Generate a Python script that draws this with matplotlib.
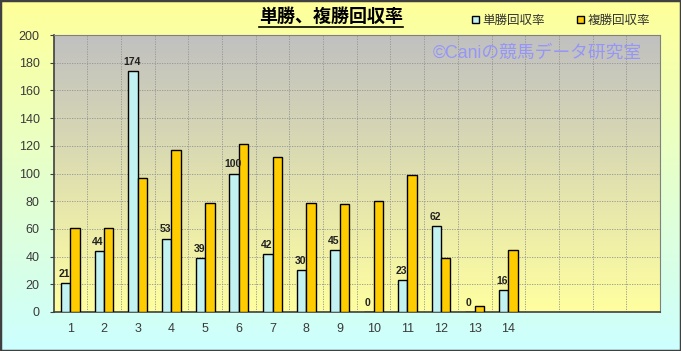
import numpy as np
import matplotlib
matplotlib.use('Agg')
import matplotlib.pyplot as plt
from matplotlib.colors import LinearSegmentedColormap
from matplotlib.patches import Rectangle
from matplotlib.lines import Line2D

plt.rcParams['font.family'] = ['Liberation Sans', 'Noto Sans CJK JP', 'DejaVu Sans']

# データ
races = list(range(1, 15))
win_returns = [21, 44, 174, 53, 39, 100, 42, 30, 45, 0, 23, 62, 0, 16]
place_returns = [61, 61, 97, 117, 79, 121, 112, 79, 78, 80, 99, 39, 4, 45]
n_slots = 18
title = '単勝、複勝回収率'
labels = ['単勝回収率', '複勝回収率']
watermark = '©Caniの競馬データ研究室'

fig = plt.figure(figsize=(6.81, 3.51), dpi=100)

# 背景グラデーション
bg = fig.add_axes([0, 0, 1, 1], zorder=-10)
cm_bg = LinearSegmentedColormap.from_list('bg', ['#ccffff', '#ffff99'])
bg.imshow(np.linspace(0, 1, 256).reshape(-1, 1)[::-1], aspect='auto',
          cmap=cm_bg, extent=[0, 1, 0, 1])
bg.axis('off')

ax = fig.add_axes([53.5 / 681, 39 / 351, 606.5 / 681, 277 / 351])
cm_plot = LinearSegmentedColormap.from_list('pl', ['#ffffa0', '#c0c0c0'])
ax.imshow(np.linspace(0, 1, 256).reshape(-1, 1)[::-1], aspect='auto',
          cmap=cm_plot, extent=[0.5, n_slots + 0.5, 0, 200], zorder=0)

x = np.array(races)
w = 0.28
ax.bar(x - w / 2, win_returns, w, color='#c2f2f2', edgecolor='black',
       linewidth=1, zorder=3)
ax.bar(x + w / 2, place_returns, w, color='#ffcc00', edgecolor='black',
       linewidth=1, zorder=3)

for xi, v in zip(x, win_returns):
    ax.annotate(str(v), (xi - w / 2, v), xytext=(-1, 3), textcoords='offset points',
                ha='center', va='bottom', fontsize=7.5, fontweight='bold',
                color='#222222', zorder=4)

ax.set_xlim(0.5, n_slots + 0.5)
ax.set_ylim(0, 200)
ax.set_yticks(range(0, 201, 20))
ax.set_xticks(races)
ax.set_xticks(np.arange(1.5, n_slots, 1), minor=True)
grid_style = dict(color='#939393', linestyle=(0, (1.5, 1.5)), linewidth=0.6, zorder=1)
ax.grid(True, axis='y', **grid_style)
ax.grid(True, axis='x', which='minor', **grid_style)
ax.set_axisbelow(True)
ax.tick_params(axis='x', which='both', length=0, pad=8, labelsize=9, labelcolor='#3a3a3a')
ax.tick_params(axis='y', length=3, pad=7, labelsize=9, labelcolor='#3a3a3a', color='#404040')
for s in ['left', 'bottom']:
    ax.spines[s].set_color('#404040')
    ax.spines[s].set_linewidth(1.2)
for s in ['top', 'right']:
    ax.spines[s].set_color('#808080')

# タイトル(下線付き)
t = fig.text(331 / 681, 1 - 17 / 351, title, ha='center', va='center',
             fontsize=13, fontweight='bold', color='black')
fig.canvas.draw()
bb = t.get_window_extent().transformed(fig.transFigure.inverted())
fig.add_artist(Line2D([bb.x0, bb.x1], [bb.y0 - 0.002, bb.y0 - 0.002],
                      transform=fig.transFigure, color='black', linewidth=1.2))

# 凡例
handles = [Rectangle((0, 0), 1, 1, facecolor='#c2f2f2', edgecolor='black', linewidth=1),
           Rectangle((0, 0), 1, 1, facecolor='#ffcc00', edgecolor='black', linewidth=1)]
leg = fig.legend(handles, labels, loc='center', bbox_to_anchor=(561 / 681, 1 - 21 / 351),
                 ncol=2, frameon=False, fontsize=9, handlelength=0.55, handleheight=0.55,
                 handletextpad=0.3, columnspacing=2.6)
for txt in leg.get_texts():
    txt.set_color('#333333')

fig.text(537 / 681, 1 - 53 / 351, watermark, ha='center', va='center',
         fontsize=12.8, color='#9696f8', zorder=5)

fig.add_artist(Rectangle((0, 0), 1, 1, transform=fig.transFigure, fill=False,
                         edgecolor='#404040', linewidth=2.5))

fig.savefig('out.png', dpi=100)
